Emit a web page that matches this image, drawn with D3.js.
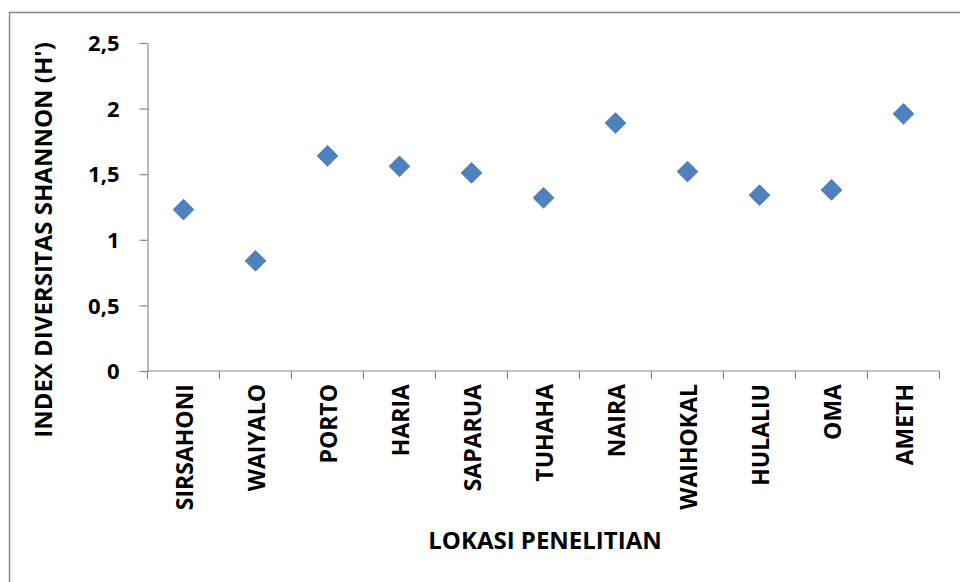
<!DOCTYPE html>
<html>
<head>
<meta charset="utf-8">
<script src="https://cdn.jsdelivr.net/npm/d3@7"></script>
<style>
  html, body { margin: 0; padding: 0; background: #fff; }
  svg { display: block; }
  text { font-family: "Open Sans", Lato, sans-serif; font-weight: bold; fill: #000; }
</style>
</head>
<body>
<svg id="chart" width="960" height="582"></svg>
<script>
// Shannon diversity index per sampling site
const sites = ["SIRSAHONI", "WAIYALO", "PORTO", "HARIA", "SAPARUA", "TUHAHA",
               "NAIRA", "WAIHOKAL", "HULALIU", "OMA", "AMETH"];
const shannonH = [1.23, 0.84, 1.64, 1.56, 1.51, 1.32, 1.89, 1.52, 1.34, 1.38, 1.96];
const yTicks = [0, 0.5, 1, 1.5, 2, 2.5];
const xTitle = "LOKASI PENELITIAN";
const yTitle = "INDEX DIVERSITAS SHANNON (H')";

const svg = d3.select("#chart");
const plot = { left: 147.5, right: 939.5, top: 43, bottom: 371 };
const axisColor = "#898989";

// outer frame of the chart area
svg.append("rect")
  .attr("x", 9.5).attr("y", 12.5)
  .attr("width", 1000).attr("height", 700)
  .attr("fill", "none").attr("stroke", axisColor).attr("stroke-width", 1.5);

const x = d3.scaleBand().domain(sites).range([plot.left, plot.right]).padding(0);
const y = d3.scaleLinear().domain([0, 2.5]).range([plot.bottom, plot.top]);

const fmt = d => d3.format("")(d).replace(".", ",");

// y axis
const gy = svg.append("g").attr("transform", `translate(${plot.left},0)`)
  .call(d3.axisLeft(y).tickValues(yTicks).tickFormat(fmt).tickSize(8).tickSizeOuter(0));
gy.select(".domain").attr("stroke", axisColor).attr("stroke-width", 1.2);
gy.selectAll(".tick line").attr("stroke", axisColor).attr("stroke-width", 1.2);
gy.selectAll(".tick text").attr("x", -28).attr("dy", "0.35em")
  .style("font-size", "22px").style("font-family", "'Open Sans', sans-serif");

// x axis: ticks sit on category boundaries
const gx = svg.append("g").attr("transform", `translate(0,${plot.bottom})`);
gx.append("line").attr("x1", plot.left).attr("x2", plot.right)
  .attr("stroke", axisColor).attr("stroke-width", 1.2);
const boundaries = sites.map(s => x(s)).concat([x(sites[sites.length - 1]) + x.bandwidth()]);
gx.selectAll("line.tk").data(boundaries).join("line").attr("class", "tk")
  .attr("x1", d => d).attr("x2", d => d).attr("y1", 0).attr("y2", 8)
  .attr("stroke", axisColor).attr("stroke-width", 1.2);
gx.selectAll("text.lbl").data(sites).join("text").attr("class", "lbl")
  .attr("transform", d => `translate(${x(d) + x.bandwidth() / 2 + 9},13) rotate(-90)`)
  .attr("text-anchor", "end")
  .style("font-size", "23px")
  .text(d => d);

// markers
const diamond = d3.symbol().type(d3.symbolSquare).size(215);
svg.append("g").selectAll("path").data(sites).join("path")
  .attr("d", diamond)
  .attr("transform", (d, i) => `translate(${x(d) + x.bandwidth() / 2},${y(shannonH[i])}) rotate(45)`)
  .attr("fill", "#4F81BD").attr("stroke", "#4675b0").attr("stroke-width", 0.8);

// axis titles
svg.append("text").attr("x", 545).attr("y", 549).attr("text-anchor", "middle")
  .style("font-size", "24px").text(xTitle);
svg.append("text")
  .attr("transform", "translate(52,240) rotate(-90)")
  .attr("text-anchor", "middle")
  .style("font-size", "24px").text(yTitle);
</script>
</body>
</html>
